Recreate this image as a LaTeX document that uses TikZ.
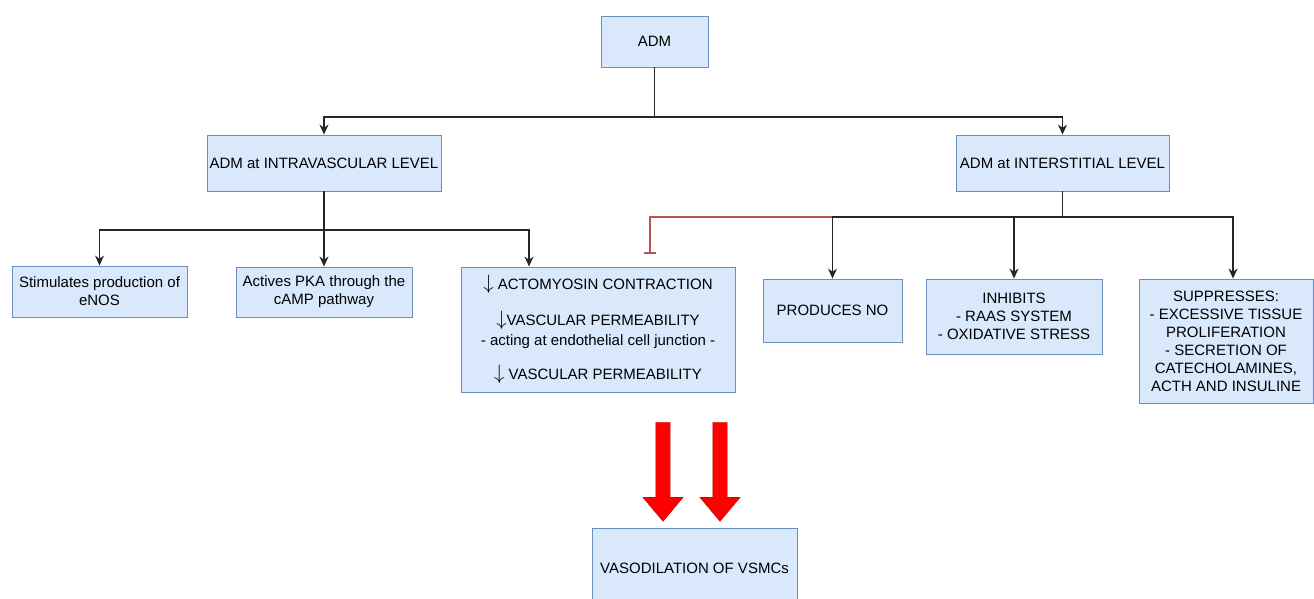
\documentclass[tikz,border=0pt]{standalone}
\usepackage{fontspec}
\setmainfont{Liberation Sans}
\usetikzlibrary{positioning, shapes.arrows, arrows.meta}

\definecolor{boxfill}{HTML}{DAE8FC}
\definecolor{boxline}{HTML}{6C8EBF}
\definecolor{inhibline}{HTML}{B85450}

\newcommand{\dn}{{\fontsize{21}{18}\selectfont$\downarrow$}}

\begin{document}
\begin{tikzpicture}[
    x=1pt, y=-1pt,
    every node/.style={font=\fontsize{15}{18}\selectfont},
    block/.style={rectangle, align=center, draw=boxline, fill=boxfill, line width=0.9pt, inner sep=0pt},
    arr/.style={draw=black!85, line width=1.2pt, -{Stealth[length=10pt, width=9pt]}},
    inhib/.style={draw=inhibline, line width=1.3pt, -{Bar[width=12pt, line width=1.8pt]}},
    bigarrow/.style={single arrow, draw=red!70!black, fill=red, inner sep=7pt, minimum height=99pt, minimum width=40pt, single arrow head extend=13pt, single arrow tip angle=80, rotate=-90},
]
    \useasboundingbox (0, 0) rectangle (1314, 599);

    \node(adm)[block, minimum width=107pt, minimum height=51pt] at (654.5, 41.5) {ADM};

    \node(intra)[block, minimum width=234pt, minimum height=56pt] at (324, 163) {ADM at INTRAVASCULAR LEVEL};
    \node(inter)[block, minimum width=213pt, minimum height=56pt] at (1062.5, 163) {ADM at INTERSTITIAL LEVEL};

    \node(enos)[block, minimum width=175pt, minimum height=51pt] at (99.5, 291.5) {Stimulates production of\\ eNOS};
    \node(pka)[block, minimum width=176pt, minimum height=50pt] at (324, 292) {Actives PKA through the\\ cAMP pathway};
    \node(acto)[block, minimum width=274pt, minimum height=125pt] at (598, 329.5) {\dn\ ACTOMYOSIN CONTRACTION\\[16pt]
        \dn VASCULAR PERMEABILITY\\[2pt]
        - acting at endothelial cell junction -\\[16pt]
        \dn\ VASCULAR PERMEABILITY};

    \node(prodno)[block, minimum width=139pt, minimum height=63pt] at (832.5, 310.5) {PRODUCES NO};
    \node(inhibits)[block, minimum width=176pt, minimum height=75pt] at (1014, 316.5) {INHIBITS\\ - RAAS SYSTEM\\ - OXIDATIVE STRESS};
    \node(suppr)[block, minimum width=174pt, minimum height=124pt] at (1226, 341) {SUPPRESSES:\\ - EXCESSIVE TISSUE\\ PROLIFERATION\\ - SECRETION OF\\ CATECHOLAMINES,\\ ACTH AND INSULINE};

    \node(arrowleft)[bigarrow] at (663, 467.5) {};
    \node(arrowright)[bigarrow] at (720, 467.5) {};

    \node(vaso)[block, minimum width=205pt, minimum height=80pt] at (694.5, 568) {VASODILATION OF VSMCs};

    \coordinate(admfork) at (654.5, 117);
    \coordinate(intrafork) at (324, 230);
    \coordinate(interfork) at (1062.5, 217);
    \coordinate(actoblock) at (650, 254);

    \draw[arr] (adm.south) -- (admfork) -| (intra.north);
    \draw[arr] (adm.south) -- (admfork) -| (inter.north);

    \draw[arr] (intra.south) -- (intrafork) -| (enos.north);
    \draw[arr] (intra.south) -- (intrafork) -| (pka.north);
    \draw[arr] (intra.south) -- (intrafork) -| ([xshift=-69pt]acto.north);

    \draw[inhib] (inter.south) -- (interfork) -| (actoblock);
    \draw[arr] (inter.south) -- (interfork) -| (prodno.north);
    \draw[arr] (inter.south) -- (interfork) -| (inhibits.north);
    \draw[arr] (inter.south) -- (interfork) -| ([xshift=7pt]suppr.north);
\end{tikzpicture}
\end{document}
